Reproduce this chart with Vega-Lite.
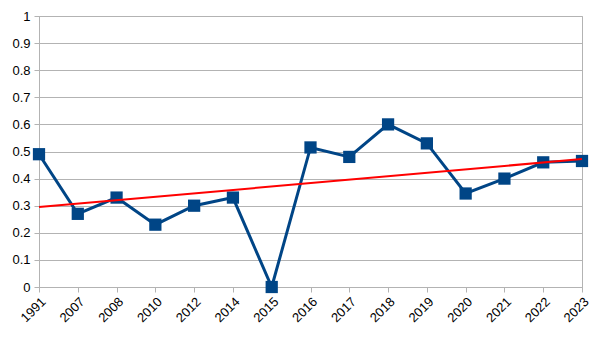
{
  "$schema": "https://vega.github.io/schema/vega-lite/v6.json",
  "width": 543,
  "height": 271,
  "autosize": "none",
  "padding": {"left": 39, "top": 16, "right": 18, "bottom": 53},
  "background": "white",
  "config": {
    "view": {"stroke": "#b3b3b3", "strokeWidth": 1},
    "axis": {"labelFont": "Liberation Sans", "labelFontSize": 13, "labelColor": "#000000", "domainColor": "#b3b3b3", "tickColor": "#b3b3b3", "gridColor": "#b3b3b3", "tickSize": 5}
  },
  "datasets": {
    "main": [
      {"year": "1991", "value": 0.49},
      {"year": "2007", "value": 0.27},
      {"year": "2008", "value": 0.33},
      {"year": "2010", "value": 0.23},
      {"year": "2012", "value": 0.30},
      {"year": "2014", "value": 0.33},
      {"year": "2015", "value": 0.0},
      {"year": "2016", "value": 0.515},
      {"year": "2017", "value": 0.48},
      {"year": "2018", "value": 0.60},
      {"year": "2019", "value": 0.53},
      {"year": "2020", "value": 0.345},
      {"year": "2021", "value": 0.40},
      {"year": "2022", "value": 0.46},
      {"year": "2023", "value": 0.465}
    ],
    "trend": [
      {"year": "1991", "value": 0.295},
      {"year": "2023", "value": 0.472}
    ]
  },
  "encoding": {
    "x": {"field": "year", "type": "ordinal", "sort": null, "scale": {"type": "point", "padding": 0}, "axis": {"title": null, "labelAngle": -45, "grid": false, "labelPadding": 3, "labelFontSize": 13}},
    "y": {"field": "value", "type": "quantitative", "scale": {"domain": [0, 1], "nice": false}, "axis": {"title": null, "values": [0, 0.1, 0.2, 0.3, 0.4, 0.5, 0.6, 0.7, 0.8, 0.9, 1], "format": "~g", "grid": true, "labelPadding": 4, "labelFontSize": 13}}
  },
  "layer": [
    {
      "data": {"name": "main"},
      "mark": {"type": "line", "color": "#004586", "strokeWidth": 3, "point": {"shape": "square", "size": 150, "filled": true, "color": "#004586", "opacity": 1}}
    },
    {
      "data": {"name": "trend"},
      "mark": {"type": "line", "color": "#ff0000", "strokeWidth": 2}
    }
  ]
}
